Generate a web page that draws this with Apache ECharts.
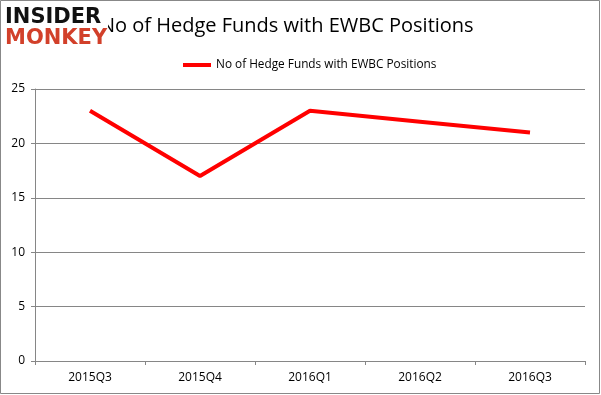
<!DOCTYPE html>
<html><head><meta charset="utf-8">
<script src="https://cdn.jsdelivr.net/npm/echarts@6/dist/echarts.min.js"></script>
<style>html,body{margin:0;padding:0;background:#fff}#c{width:601px;height:395px}</style>
</head><body><div id="c"></div>
<script>
const titleText = "No of Hedge Funds with EWBC Positions";
const seriesName = "No of Hedge Funds with EWBC Positions";
const categories = ["2015Q3", "2015Q4", "2016Q1", "2016Q2", "2016Q3"];
const values = [23, 17, 23, 22, 21];
const yTicks = { min: 0, max: 25, interval: 5 };

const chart = echarts.init(document.getElementById('c'), null, { renderer: 'canvas' });
chart.setOption({
  animation: false,
  backgroundColor: '#fff',
  title: {
    text: titleText, left: 95, top: 11, z: 1,
    textStyle: { fontFamily: 'Open Sans', fontSize: 20, fontWeight: 'normal', color: '#000' }
  },
  legend: {
    top: 54, left: 178, itemWidth: 28, itemHeight: 4, itemGap: 4,
    icon: 'rect',
    data: [seriesName],
    textStyle: { fontFamily: 'Open Sans', fontSize: 11.8, color: '#000' }
  },
  grid: { left: 35, right: 16, top: 89, bottom: 34, containLabel: false },
  xAxis: {
    type: 'category', data: categories, boundaryGap: true,
    axisLine: { lineStyle: { color: '#868686', width: 1 } },
    axisTick: { show: true, length: 4, inside: false, lineStyle: { color: '#868686' }, alignWithLabel: false },
    axisLabel: { fontFamily: 'Open Sans', fontSize: 12, color: '#000', margin: 11 }
  },
  yAxis: {
    type: 'value', min: yTicks.min, max: yTicks.max, interval: yTicks.interval,
    axisLine: { show: true, lineStyle: { color: '#868686' } },
    axisTick: { show: true, length: 4, lineStyle: { color: '#868686' } },
    splitLine: { lineStyle: { color: '#868686', width: 1 } },
    axisLabel: { fontFamily: 'Open Sans', fontSize: 12, color: '#000', margin: 10 }
  },
  series: [{
    name: seriesName, type: 'line', data: values,
    showSymbol: false, symbol: 'none',
    lineStyle: { color: '#ff0000', width: 4 },
    itemStyle: { color: '#ff0000' }
  }],
  graphic: [
    { type: 'rect', z: 10, shape: { x: 0.5, y: 0.5, width: 599, height: 393 }, style: { fill: null, stroke: '#888', lineWidth: 1 } },
    { type: 'rect', z: 10, shape: { x: 4, y: 6, width: 104, height: 46 }, style: { fill: '#fff' } },
    { type: 'text', z: 11, left: 5, top: 7, style: { text: 'INSIDER', fontFamily: 'DejaVu Sans', fontWeight: 'bold', fontSize: 21, fill: '#111' } },
    { type: 'text', z: 11, left: 5, top: 28, style: { text: 'MONKEY', fontFamily: 'DejaVu Sans', fontWeight: 'bold', fontSize: 21, fill: '#d2402a' } }
  ]
});
</script></body></html>
